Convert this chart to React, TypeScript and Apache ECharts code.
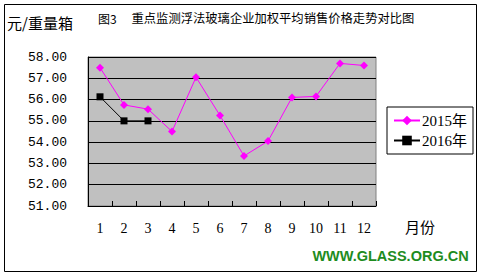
import React, { useEffect, useRef } from "react";
import * as echarts from "echarts";

const months = ["1", "2", "3", "4", "5", "6", "7", "8", "9", "10", "11", "12"];
const s2015 = [57.5, 55.75, 55.55, 54.5, 57.05, 55.25, 53.35, 54.05, 56.1, 56.15, 57.7, 57.6];
const s2016: (number | null)[] = [56.13, 55.0, 55.0, null, null, null, null, null, null, null, null, null];
const yMin = 51;
const yMax = 58;
const yInterval = 1;

export default function App() {
  const ref = useRef<HTMLDivElement>(null);
  useEffect(() => {
    document.body.style.margin = "0";
    const chart = echarts.init(ref.current!, null, { renderer: "svg" });
    chart.setOption({
      animation: false,
      backgroundColor: "#ffffff",
      grid: { left: 88, right: 107, top: 57, bottom: 72, show: true, backgroundColor: "#C0C0C0", borderColor: "#808080", borderWidth: 1 },
      xAxis: {
        type: "category",
        data: months,
        boundaryGap: true,
        axisLine: { show: true, lineStyle: { color: "#000", width: 1 } },
        axisTick: { show: true, inside: true, length: 5, lineStyle: { color: "#000" } },
        axisLabel: { color: "#000", fontFamily: "Liberation Serif", fontSize: 14, margin: 15 },
      },
      yAxis: {
        type: "value",
        min: yMin,
        max: yMax,
        interval: yInterval,
        axisLine: { show: true, lineStyle: { color: "#000", width: 1 } },
        axisTick: { show: false },
        splitLine: { show: true, lineStyle: { color: "#000", width: 1 } },
        axisLabel: {
          color: "#000",
          fontFamily: "Liberation Mono",
          fontSize: 13,
          margin: 21,
          formatter: (v: number) => v.toFixed(2),
        },
      },
      legend: {
        orient: "vertical",
        left: 387,
        top: 107,
        borderColor: "#000",
        borderWidth: 1,
        backgroundColor: "#fff",
        padding: [6, 6, 6, 6],
        itemGap: 5,
        itemWidth: 26,
        itemHeight: 12,
        textStyle: { color: "#000", fontFamily: "Liberation Serif, Noto Sans CJK SC", fontSize: 15, padding: [0, 0, 0, -3] },
        data: ["2015年", "2016年"],
      },
      series: [
        {
          name: "2015年",
          type: "line",
          data: s2015,
          symbol: "diamond",
          symbolSize: 8,
          lineStyle: { color: "#FF00FF", width: 1 },
          itemStyle: { color: "#FF00FF" },
        },
        {
          name: "2016年",
          type: "line",
          data: s2016,
          symbol: "rect",
          symbolSize: 7,
          lineStyle: { color: "#000", width: 1 },
          itemStyle: { color: "#000" },
        },
      ],
      graphic: [
        { type: "rect", shape: { x: 4.5, y: 4.5, width: 472, height: 267 }, style: { fill: "none", stroke: "#000", lineWidth: 1 }, z: 100 },
        { type: "text", x: 7, y: 22, style: { text: "元/重量箱", fontFamily: "Noto Sans CJK SC", fontSize: 15, fill: "#000", verticalAlign: "middle" } },
        { type: "text", x: 98, y: 18, style: { text: "图3", fontFamily: "Noto Sans CJK SC", fontSize: 12, fill: "#000", verticalAlign: "middle" } },
        { type: "text", x: 131.5, y: 18, style: { text: "重点监测浮法玻璃企业加权平均销售价格走势对比图", fontFamily: "Noto Sans CJK SC", fontSize: 12.3, fill: "#000", verticalAlign: "middle" } },
        { type: "text", x: 405, y: 226, style: { text: "月份", fontFamily: "Noto Sans CJK SC", fontSize: 15, fill: "#000", verticalAlign: "middle" } },
        { type: "text", x: 390.5, y: 256, style: { text: "WWW.GLASS.ORG.CN", fontFamily: "Liberation Sans", fontWeight: "bold", fontSize: 14.5, fill: "#1E8C1E", align: "center", verticalAlign: "middle" } },
      ],
    });
    return () => chart.dispose();
  }, []);
  return <div ref={ref} style={{ width: 483, height: 278 }} />;
}
